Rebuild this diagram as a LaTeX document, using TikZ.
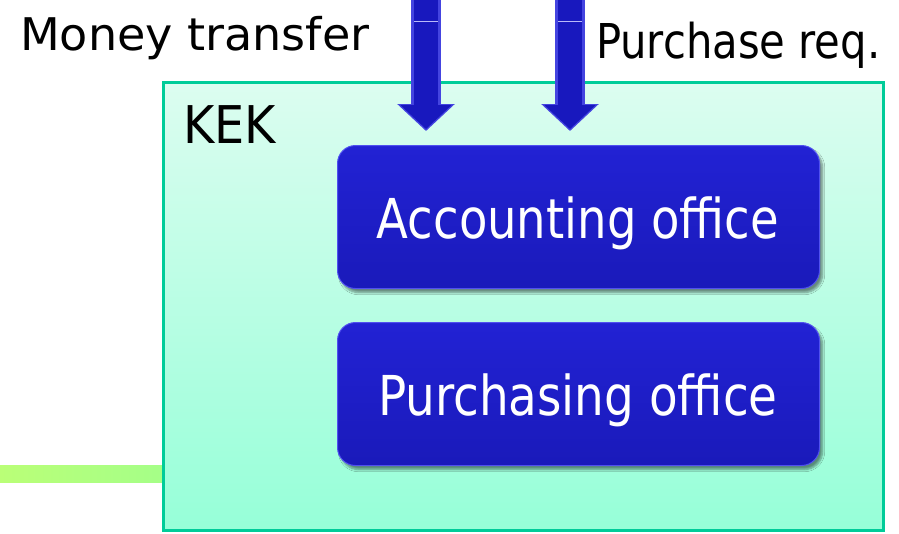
\documentclass[tikz,border=0pt]{standalone}
\usepackage{fontspec}
\setmainfont{DejaVu Sans Condensed}
\usetikzlibrary{arrows.meta,shadows.blur}

\definecolor{kekborder}{HTML}{00CC99}
\definecolor{kektop}{HTML}{DCFDF0}
\definecolor{kekbottom}{HTML}{96FFD8}
\definecolor{barleft}{HTML}{BAFF77}
\definecolor{barright}{HTML}{A5FF88}
\definecolor{officetop}{HTML}{2222D4}
\definecolor{officebottom}{HTML}{1A1ABA}
\definecolor{officerim}{HTML}{5050F0}
\definecolor{arrowblue}{HTML}{1818BE}
\definecolor{arrowrim}{HTML}{4444E0}

\tikzset{
  kekbox/.style={draw=kekborder, line width=2.5pt, top color=kektop, bottom color=kekbottom,
    minimum width=720pt, minimum height=448pt, inner sep=0pt, anchor=north west},
  officebox/.style={rounded corners=18pt, top color=officetop, bottom color=officebottom,
    draw=officerim, line width=1pt, minimum width=482pt, minimum height=143pt,
    inner sep=0pt, anchor=north west,
    blur shadow={shadow xshift=3pt, shadow yshift=-4pt, shadow blur steps=6, shadow opacity=45}},
  officetext/.style={text=white, font=\fontsize{55}{60}\selectfont, inner sep=0pt, anchor=base},
  label/.style={text=black, inner sep=0pt, anchor=base west},
  arrowedge/.style={draw=arrowrim, line width=30pt,
    -{Triangle[width=56pt, length=27pt]}},
  bigarrow/.style={draw=arrowblue, line width=24pt,
    -{Triangle[width=50pt, length=24pt]}},
  shine/.style={draw=white!60!officerim, line width=1pt}
}

\begin{document}
\begin{tikzpicture}[x=1pt, y=-1pt]
  \useasboundingbox (0,0) rectangle (899,533);

  % incoming green link on the left
  \shade[left color=barleft, right color=barright] (0,465) rectangle (163,482);

  % organisation frame
  \node[kekbox] (kek) at (162,81) {};
  \node[label, font=\fontsize{52}{56}\selectfont] (kekname) at (183,143) {\scalebox{1.02}[1]{KEK}};

  % offices
  \node[officebox] (acc) at (337,145) {};
  \node[officetext] (acctext) at (578,238) {\scalebox{0.94}[1]{Accounting office}};
  \node[officebox] (pur) at (337,322) {};
  \node[officetext] (purtext) at (578,415) {\scalebox{0.947}[1]{Purchasing office}};

  % incoming requests
  \coordinate (moneyin) at (426,-2);
  \coordinate (moneytip) at (426,131);
  \coordinate (reqin) at (570,-2);
  \coordinate (reqtip) at (570,131);
  \draw[arrowedge] (moneyin) -- (moneytip);
  \draw[arrowedge] (reqin) -- (reqtip);
  \draw[bigarrow] (426,-2) -- (426,129);
  \draw[bigarrow] (570,-2) -- (570,129);
  \draw[shine] (414,21) -- (438,21);
  \draw[shine] (558,21) -- (582,21);

  \node[label, font=\fontsize{45}{50}\selectfont] (money) at (20,50) {\scalebox{1.138}[1]{Money transfer}};
  \node[label, font=\fontsize{48}{52}\selectfont] (req) at (596,58) {\scalebox{0.966}[1]{Purchase req.}};
\end{tikzpicture}
\end{document}
